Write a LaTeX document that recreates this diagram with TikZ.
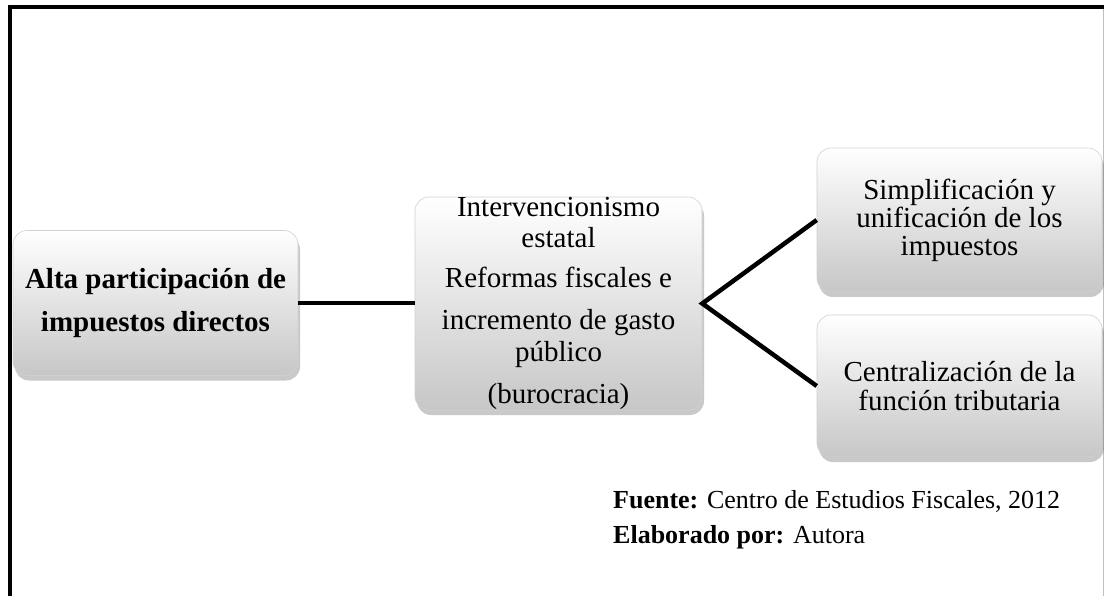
\documentclass[tikz,border=0pt]{standalone}
\usepackage{fontspec}
\setmainfont{Liberation Serif}
\usetikzlibrary{shadows}
\tikzset{
  boxst/.style={draw=black!18, line width=0.6pt, rounded corners=14pt,
    top color=white, bottom color=black!22, align=center,
    inner sep=0pt,
    drop shadow={shadow xshift=2pt, shadow yshift=-5pt, opacity=0.35, fill=black!60}},
  link/.style={line width=4.5pt, black},
  frameline/.style={line width=4pt, black},
  foot/.style={anchor=base west, inner sep=0pt, font=\fontsize{26}{28}\selectfont}
}
\begin{document}
\begin{tikzpicture}[x=1pt,y=-1pt]
\useasboundingbox (0,0) rectangle (1104,596);
\fill[white] (0,0) rectangle (1104,596);
% frame
\draw[frameline] (7.5,7) -- (1104,7);
\draw[frameline] (9.5,5) -- (9.5,596);
\draw[black!25, line width=1pt] (1103,9) -- (1103,596);
% boxes
\node[boxst, minimum width=285pt, minimum height=145pt,
      font=\fontsize{29}{43}\selectfont\bfseries] (a) at (155.5,303)
  {Alta participación de\\impuestos directos};
\node[boxst, minimum width=287pt, minimum height=213pt,
      font=\fontsize{29}{31.5}\selectfont] (b) at (558.5,303.5)
  {Intervencionismo\\ estatal\\[8pt] Reformas fiscales e\\[11pt] incremento de gasto\\ público\\[11pt] (burocracia)};
\node[boxst, minimum width=285pt, minimum height=144pt,
      font=\fontsize{29}{28}\selectfont] (c) at (959.5,220)
  {Simplificación y\\ unificación de los\\ impuestos};
\node[boxst, minimum width=285pt, minimum height=142pt,
      font=\fontsize{29}{29.5}\selectfont] (d) at (959.5,386)
  {Centralización de la\\ función tributaria};
% connectors
\draw[link] (a.east) -- (a.east -| b.west);
\draw[link, line join=miter] (c.west) -- (b.east) -- (d.west);
% footer
\node[foot] (f1) at (613,508) {\textbf{Fuente:} Centro de Estudios Fiscales, 2012};
\node[foot] (f2) at (613,543) {\textbf{Elaborado por:} Autora};
\end{tikzpicture}
\end{document}
